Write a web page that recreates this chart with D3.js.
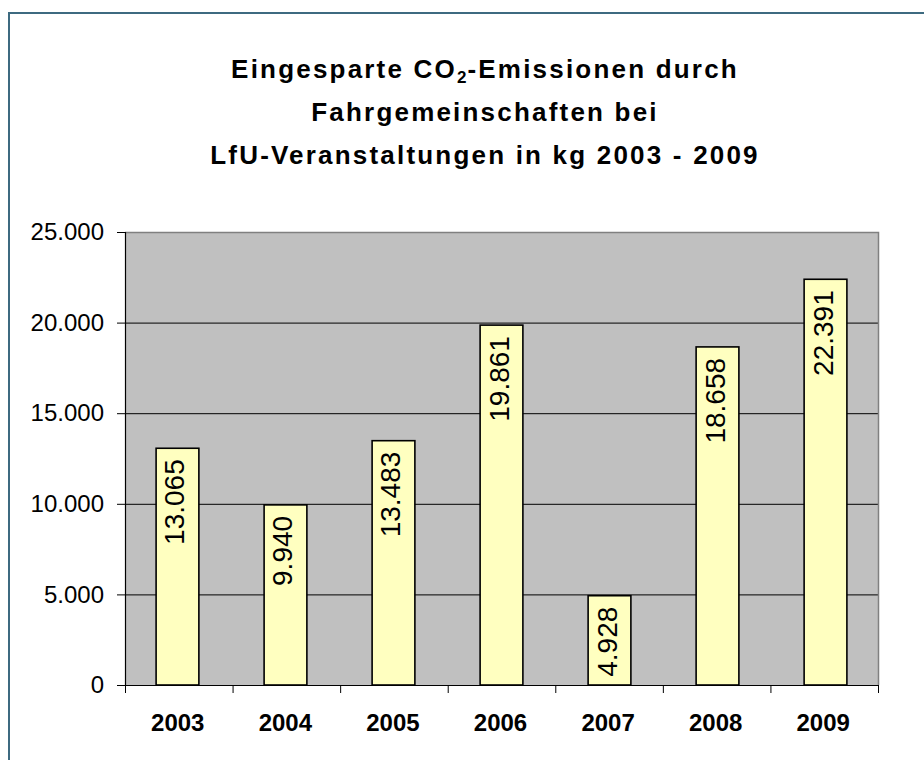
<!DOCTYPE html>
<html>
<head>
<meta charset="utf-8">
<script src="https://cdn.jsdelivr.net/npm/d3@7"></script>
<style>
  html, body { margin: 0; padding: 0; background: #ffffff; }
  svg { display: block; }
  text { font-family: "Liberation Sans", Arial, sans-serif; }
</style>
</head>
<body>
<svg id="chart" width="924" height="760"></svg>
<script>
const categories = ["2003", "2004", "2005", "2006", "2007", "2008", "2009"];
const values = [13065, 9940, 13483, 19861, 4928, 18658, 22391];
const yTicks = [0, 5000, 10000, 15000, 20000, 25000];
const titleLines = ["Eingesparte CO|2|-Emissionen durch", "Fahrgemeinschaften bei", "LfU-Veranstaltungen in kg 2003 - 2009"];

const svg = d3.select("#chart");
const de = d3.formatLocale({decimal: ",", thousands: ".", grouping: [3], currency: ["", " €"]});
const fmt = de.format(",d");

const plot = {left: 125, right: 878, top: 232, bottom: 685};

// outer chart border (extends beyond the window on right/bottom)
svg.append("rect")
  .attr("x", 9).attr("y", 13)
  .attr("width", 1000).attr("height", 1000)
  .attr("fill", "none")
  .attr("stroke", "#3d6a80")
  .attr("stroke-width", 2);

// title
const title = svg.append("text")
  .attr("text-anchor", "middle")
  .attr("font-weight", "bold")
  .attr("font-size", 26)
  .attr("letter-spacing", 2.2)
  .attr("fill", "#000");
titleLines.forEach((line, i) => {
  const t = title.append("tspan").attr("x", 485).attr("y", 78 + i * 43);
  if (line.includes("|")) {
    const parts = line.split("|");
    t.text(parts[0]);
    title.append("tspan").attr("font-size", 17).attr("dy", 5).attr("letter-spacing", 1).text(parts[1]);
    title.append("tspan").attr("dy", -5).text(parts[2]);
  } else {
    t.text(line);
  }
});

const x = d3.scaleBand()
  .domain(categories)
  .range([plot.left, plot.right])
  .paddingInner(0.604)
  .paddingOuter(0.288);
const xEdges = d3.scaleBand().domain(categories).range([plot.left, plot.right]).padding(0);
const y = d3.scaleLinear().domain([0, 25000]).range([plot.bottom, plot.top]);

// plot background
svg.append("rect")
  .attr("x", plot.left).attr("y", plot.top)
  .attr("width", plot.right - plot.left).attr("height", plot.bottom - plot.top)
  .attr("fill", "#c0c0c0");

// gridlines
svg.append("g").selectAll("line")
  .data(yTicks.filter(t => t > 0 && t < 25000))
  .join("line")
  .attr("x1", plot.left).attr("x2", plot.right)
  .attr("y1", d => y(d) + 0.5).attr("y2", d => y(d) + 0.5)
  .attr("stroke", "#000").attr("stroke-width", 1);

// plot frame top/right (gray)
svg.append("path")
  .attr("d", `M${plot.left},${plot.top + 0.5}H${plot.right + 0.5}V${plot.bottom}`)
  .attr("fill", "none").attr("stroke", "#808080").attr("stroke-width", 1.5);

// bars
svg.append("g").selectAll("rect")
  .data(values)
  .join("rect")
  .attr("x", (d, i) => x(categories[i]))
  .attr("y", d => y(d))
  .attr("width", x.bandwidth())
  .attr("height", d => y(0) - y(d))
  .attr("fill", "#ffffc0")
  .attr("stroke", "#000")
  .attr("stroke-width", 1.6);

// bar labels
svg.append("g").selectAll("text")
  .data(values)
  .join("text")
  .attr("transform", (d, i) => `translate(${x(categories[i]) + x.bandwidth() / 2},${y(d) + 11}) rotate(-90)`)
  .attr("text-anchor", "end")
  .attr("dy", "0.25em")
  .attr("font-size", 28)
  .attr("fill", "#000")
  .text(d => fmt(d));

// y axis
const yAxis = d3.axisLeft(y).tickValues(yTicks).tickFormat(fmt).tickSize(8).tickPadding(13);
const gy = svg.append("g").attr("transform", `translate(${plot.left},0)`).call(yAxis);
gy.select(".domain").attr("stroke", "#000").attr("stroke-width", 1.2);
gy.selectAll(".tick line").attr("stroke", "#000");
gy.selectAll(".tick text").attr("font-size", 24).attr("fill", "#000")
  .attr("font-family", "'Liberation Sans', Arial, sans-serif");

// x axis baseline and ticks at category boundaries
svg.append("line")
  .attr("x1", plot.left).attr("x2", plot.right + 1)
  .attr("y1", plot.bottom + 0.5).attr("y2", plot.bottom + 0.5)
  .attr("stroke", "#000").attr("stroke-width", 1.2);
const edges = categories.map(c => xEdges(c)).concat([plot.right]);
svg.append("g").selectAll("line")
  .data(edges)
  .join("line")
  .attr("x1", d => d + 0.5).attr("x2", d => d + 0.5)
  .attr("y1", plot.bottom).attr("y2", plot.bottom + 8)
  .attr("stroke", "#000").attr("stroke-width", 1);
svg.append("g").selectAll("text")
  .data(categories)
  .join("text")
  .attr("x", d => xEdges(d) + xEdges.bandwidth() / 2 - 1)
  .attr("y", 731)
  .attr("text-anchor", "middle")
  .attr("font-size", 24)
  .attr("font-weight", "bold")
  .attr("fill", "#000")
  .text(d => d);
</script>
</body>
</html>
